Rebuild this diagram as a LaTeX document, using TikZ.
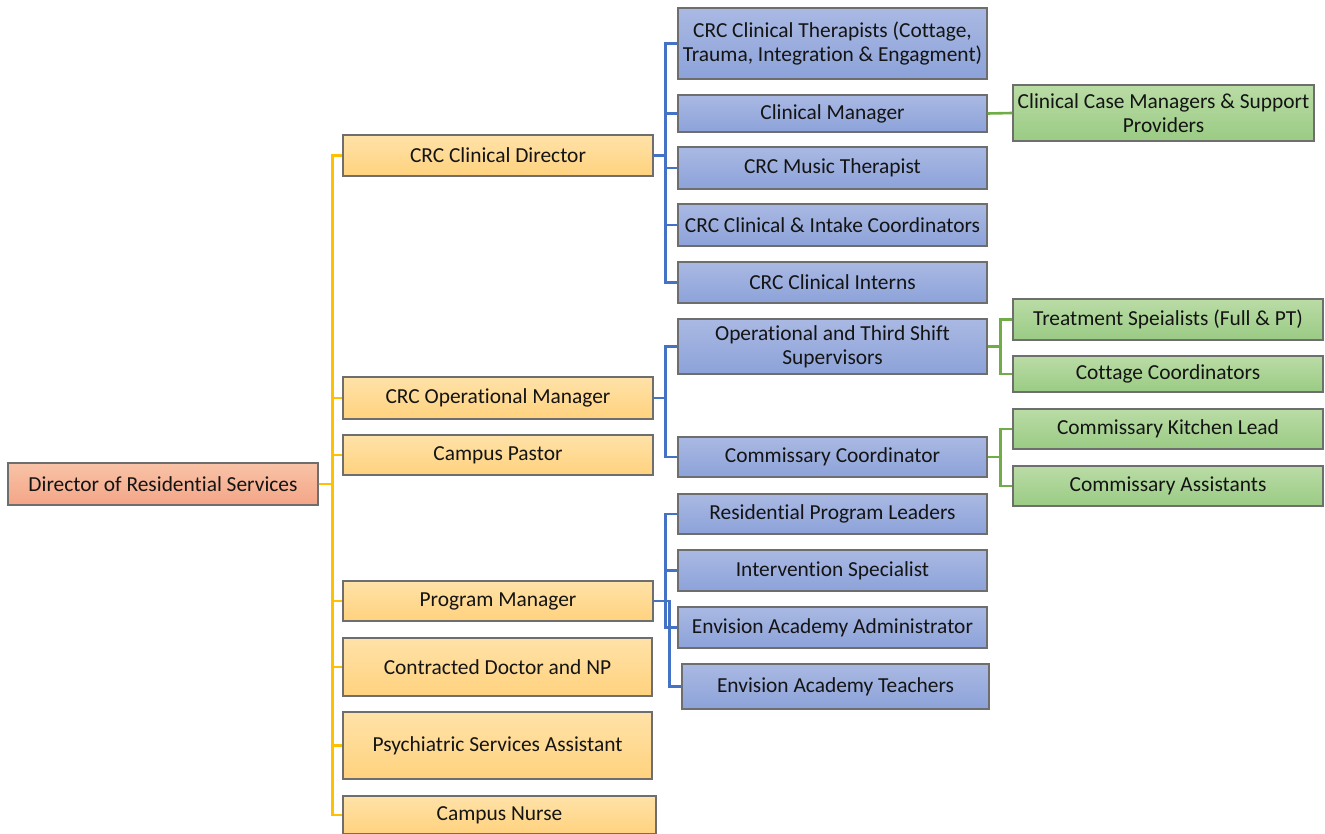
\documentclass[tikz,border=0pt]{standalone}
\usepackage{fontspec}
\setmainfont{Carlito}[Ligatures=NoCommon]
\definecolor{ytop}{HTML}{FFE2A8}
\definecolor{ybot}{HTML}{FFD27E}
\definecolor{rtop}{HTML}{F8C3A8}
\definecolor{rbot}{HTML}{F4A586}
\definecolor{btop}{HTML}{AAB9E3}
\definecolor{bbot}{HTML}{8CA2D9}
\definecolor{gtop}{HTML}{BADCA6}
\definecolor{gbot}{HTML}{9ACB84}
\definecolor{yline}{HTML}{FFC000}
\definecolor{bline}{HTML}{4472C4}
\definecolor{gline}{HTML}{70AD47}
\definecolor{border}{HTML}{6E6E6E}
\begin{document}
\begin{tikzpicture}[x=1pt,y=-1pt,
  box/.style={draw=border, line width=1.4pt, inner sep=0pt, align=center,
    font=\fontsize{21.4}{24}\selectfont, text=black!92},
  ybox/.style={box, top color=ytop, bottom color=ybot},
  rbox/.style={box, top color=rtop, bottom color=rbot},
  bbox/.style={box, top color=btop, bottom color=bbot},
  gbox/.style={box, top color=gtop, bottom color=gbot},
  sz/.style n args={2}{minimum width=#1, minimum height=#2},
  yl/.style={draw=yline, line width=2.6pt},
  bl/.style={draw=bline, line width=2.6pt},
  gl/.style={draw=gline, line width=2.6pt}]
\useasboundingbox (0,0) rectangle (1325,834);

\node[rbox, sz={310pt}{42pt}] (dir) at (163,484) {Director of Residential Services};

\node[ybox, sz={310pt}{41pt}] (cd) at (498,155.5) {CRC Clinical Director};
\node[ybox, sz={310pt}{42pt}] (om) at (498,398) {CRC Operational Manager};
\node[ybox, sz={310pt}{40pt}] (cp) at (498,455) {Campus Pastor};
\node[ybox, sz={310pt}{40pt}] (pm) at (498,601) {Program Manager};
\node[ybox, sz={309pt}{58pt}] (doc) at (497.5,667) {Contracted Doctor and NP};
\node[ybox, sz={309pt}{67pt}] (psy) at (497.5,745.5) {Psychiatric Services Assistant};
\node[ybox, sz={313pt}{38pt}] (nurse) at (499.5,815) {Campus Nurse};

\node[bbox, sz={309pt}{71pt}] (ther) at (832.5,43.5) {CRC Clinical Therapists (Cottage,\\Trauma, Integration \& Engagment)};
\node[bbox, sz={309pt}{37pt}] (cm) at (832.5,113.5) {Clinical Manager};
\node[bbox, sz={309pt}{42pt}] (mus) at (832.5,168) {CRC Music Therapist};
\node[bbox, sz={309pt}{42pt}] (intake) at (832.5,225) {CRC Clinical \& Intake Coordinators};
\node[bbox, sz={309pt}{41pt}] (intern) at (832.5,282.5) {CRC Clinical Interns};
\node[bbox, sz={309pt}{55pt}] (ops) at (832.5,346.5) {Operational and Third Shift\\Supervisors};
\node[bbox, sz={309pt}{40pt}] (cc) at (832.5,457) {Commissary Coordinator};
\node[bbox, sz={309pt}{40pt}] (rpl) at (832.5,514) {Residential Program Leaders};
\node[bbox, sz={309pt}{41pt}] (isp) at (832.5,570.5) {Intervention Specialist};
\node[bbox, sz={309pt}{41pt}] (eaa) at (832.5,627.5) {Envision Academy Administrator};
\node[bbox, sz={307pt}{45pt}] (eat) at (835.5,686.5) {Envision Academy Teachers};

\node[gbox, sz={301pt}{56pt}] (ccm) at (1163.5,113) {Clinical Case Managers \& Support\\Providers};
\node[gbox, sz={310pt}{41pt}] (ts) at (1168,319.5) {Treatment Speialists (Full \& PT)};
\node[gbox, sz={310pt}{36pt}] (cot) at (1168,374) {Cottage Coordinators};
\node[gbox, sz={310pt}{40pt}] (ckl) at (1168,429) {Commissary Kitchen Lead};
\node[gbox, sz={310pt}{40pt}] (ca) at (1168,486) {Commissary Assistants};

\foreach \n in {cd,om,cp,pm,doc,psy,nurse}
  \draw[yl] (dir.east) -- ++(14,0) |- (\n.west);
\foreach \n in {ther,cm,mus,intake,intern}
  \draw[bl] (cd.east) -- ++(12,0) |- (\n.west);
\foreach \n in {ops,cc}
  \draw[bl] (om.east) -- ++(12,0) |- (\n.west);
\foreach \n in {rpl,isp,eaa}
  \draw[bl] (pm.east) -- ++(12,0) |- (\n.west);
\draw[bl] (pm.east) -- ++(16,0) |- (eat.west);
\draw[gl] (cm.east) -- (ccm.west);
\foreach \n in {ts,cot}
  \draw[gl] (ops.east) -- ++(13,0) |- (\n.west);
\foreach \n in {ckl,ca}
  \draw[gl] (cc.east) -- ++(13,0) |- (\n.west);
\end{tikzpicture}
\end{document}
